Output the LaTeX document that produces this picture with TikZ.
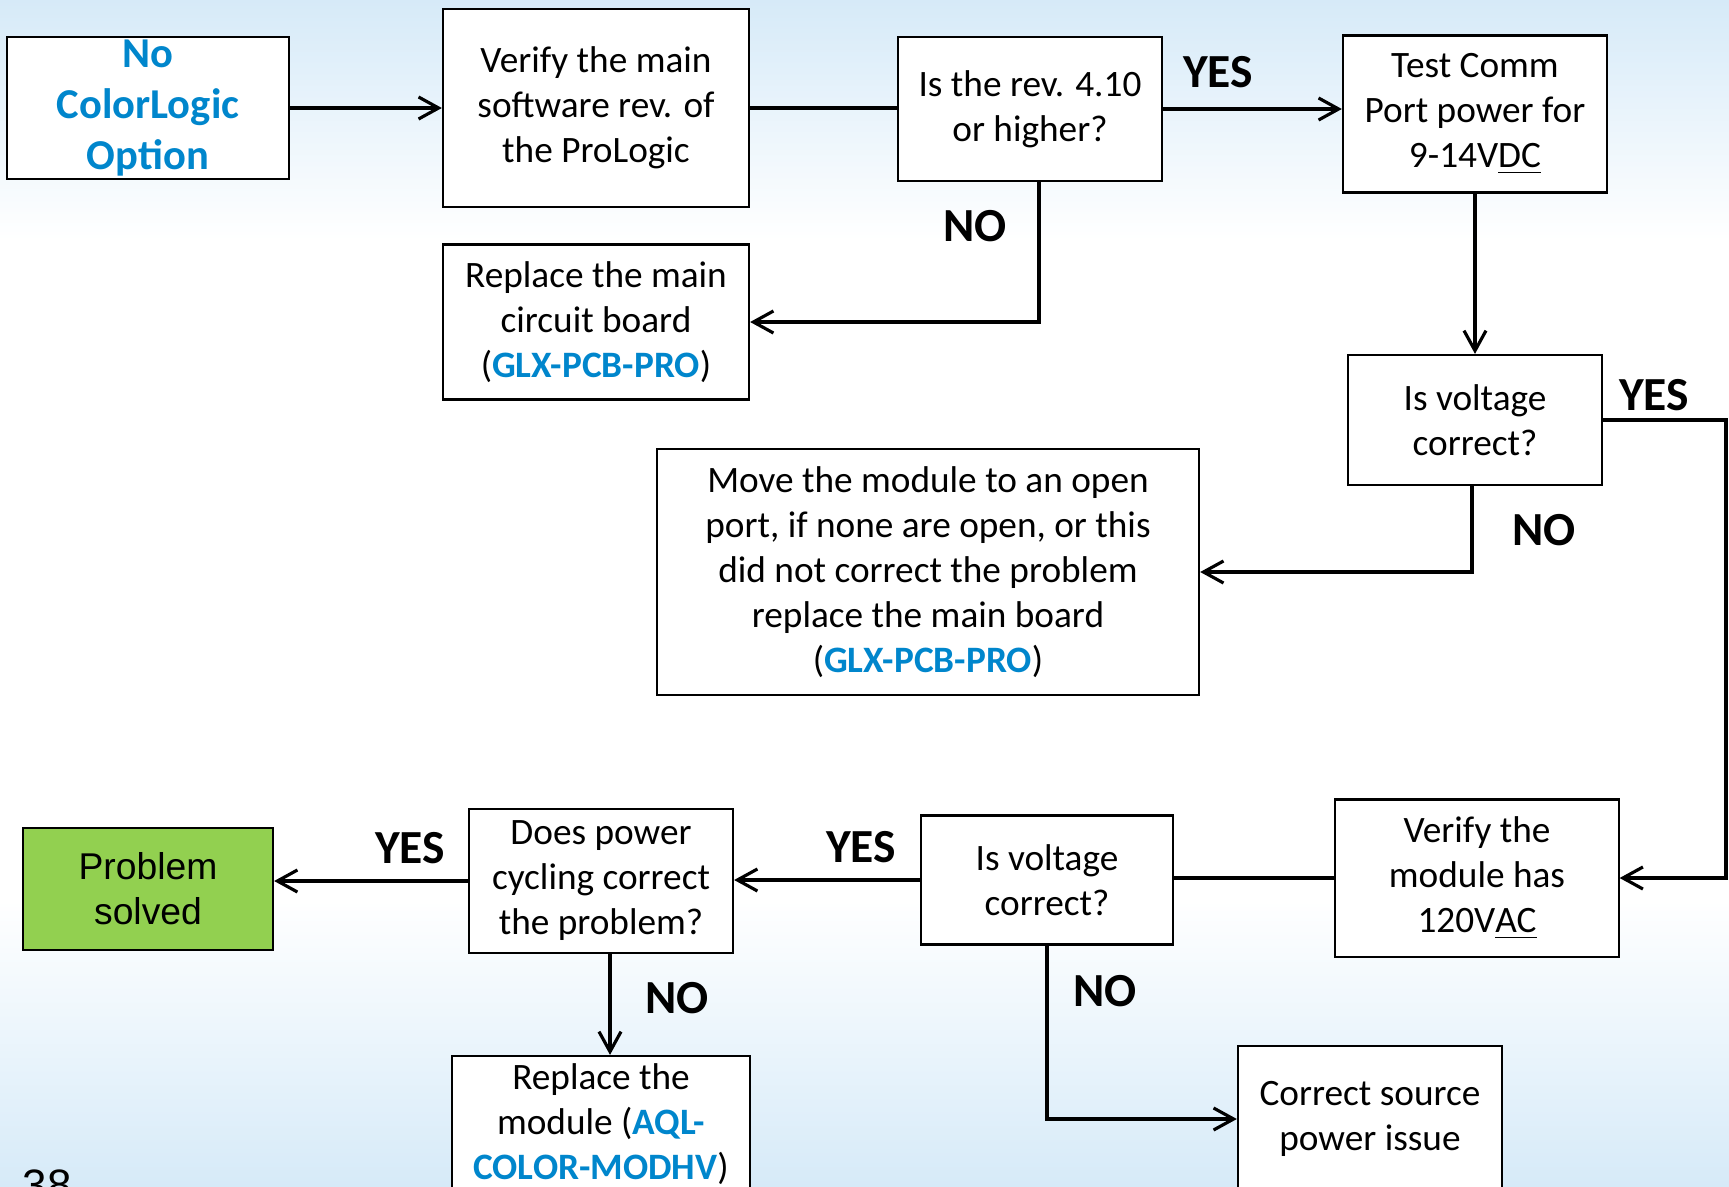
\documentclass[tikz,border=0pt]{standalone}
\usepackage{fontspec}
\setmainfont{Carlito}
\newfontfamily\arialfont{Liberation Sans}
\usetikzlibrary{positioning,arrows.meta}
\definecolor{partblue}{RGB}{0,134,204}
\definecolor{solvedgreen}{RGB}{146,208,80}
\definecolor{bgblue}{RGB}{214,234,248}
\newcommand{\partno}[1]{\textbf{\textcolor{partblue}{#1}}}

\begin{document}
\begin{tikzpicture}[
  x=0.01cm, y=-0.01cm,
  stepbox/.style={draw,line width=0.6pt,align=center,inner sep=0pt,fill=white,
    font=\fontsize{10.6}{12.8}\selectfont},
  answer/.style={font=\fontsize{13.5}{15}\selectfont\bfseries},
  flow/.style={line width=0.9pt},
  arr/.style={flow,-{Straight Barb[length=2mm,width=2.2mm]}}
]
\useasboundingbox (0,0) rectangle (1729,1187);
\clip (0,0) rectangle (1729,1187);
\shade[top color=bgblue,bottom color=white] (0,0) rectangle (1729,240);
\shade[top color=white,bottom color=bgblue] (0,900) rectangle (1729,1187);

% boxes
\node[stepbox,minimum width=2.82cm,minimum height=1.42cm,
  font=\fontsize{12.1}{14.6}\selectfont\bfseries\color{partblue}] (noco) at (148,108) {No\\ColorLogic\\Option};
\node[stepbox,minimum width=3.06cm,minimum height=1.98cm] (verify) at (596,108) {Verify the main\\software rev. of\\the ProLogic};
\node[stepbox,minimum width=2.63cm,minimum height=1.44cm] (rev) at (1030,109) {Is the rev. 4.10\\or higher?};
\node[stepbox,minimum width=2.64cm,minimum height=1.57cm] (comm) at (1475,114) {Test Comm\\Port power for\\9-14V\underline{DC}};
\node[stepbox,minimum width=2.54cm,minimum height=1.30cm] (volt1) at (1475,420) {Is voltage\\correct?};
\node[stepbox,minimum width=3.06cm,minimum height=1.55cm] (replmain) at (596,322) {Replace the main\\circuit board\\(\partno{GLX-PCB-PRO})};
\node[stepbox,minimum width=5.42cm,minimum height=2.45cm] (move) at (928,572) {Move the module to an open\\port, if none are open, or this\\did not correct the problem\\replace the main board\\(\partno{GLX-PCB-PRO})};
\node[stepbox,minimum width=2.83cm,minimum height=1.57cm] (vmod) at (1477,878) {Verify the\\module has\\120V\underline{AC}};
\node[stepbox,minimum width=2.52cm,minimum height=1.29cm] (volt2) at (1047,880) {Is voltage\\correct?};
\node[stepbox,minimum width=2.64cm,minimum height=1.44cm] (cycle) at (601,881) {Does power\\cycling correct\\the problem?};
\node[stepbox,fill=solvedgreen,minimum width=2.50cm,minimum height=1.22cm,
  font=\arialfont\fontsize{10.6}{12.8}\selectfont] (solved) at (148,889) {Problem\\solved};
\node[stepbox,minimum width=2.97cm,minimum height=1.36cm] (replmod) at (601,1124) {Replace the\\module (\partno{AQL-}\\\partno{COLOR-MODHV})};
\node[stepbox,minimum width=2.64cm,minimum height=1.46cm] (source) at (1370,1119) {Correct source\\power issue};
\coordinate (rail) at (1726,0);

% connectors
\draw[arr] (noco.east |- verify.west) -- (verify.west);
\draw[flow] (verify.east) -- (verify.east -| rev.west);
\draw[arr] (rev.east) -- (rev.east -| comm.west);
\draw[arr] ([xshift=0.09cm]rev.south) |- (replmain.east);
\draw[arr] (comm) -- (volt1);
\draw[arr] (volt1.east) -- (volt1.east -| rail) |- (vmod.east);
\draw[arr] ([xshift=-0.03cm]volt1.south) |- (move.east);
\draw[flow] (vmod.west) -- (vmod.west -| volt2.east);
\draw[arr] (volt2.west) -- (volt2.west -| cycle.east);
\draw[arr] (volt2.south) |- (source.west);
\draw[arr] (cycle.west) -- (cycle.west -| solved.east);
\draw[arr] ([xshift=0.09cm]cycle.south) -- ([xshift=0.09cm]replmod.north);

% answers
\node[answer] (yes1) at (1218,72) {YES};
\node[answer] (no1) at (975,226) {NO};
\node[answer] (yes2) at (1654,395) {YES};
\node[answer] (no2) at (1544,530) {NO};
\node[answer] (yes3) at (861,847) {YES};
\node[answer] (no3) at (1105,991) {NO};
\node[answer] (yes4) at (410,848) {YES};
\node[answer] (no4) at (677,998) {NO};

\node[font=\arialfont\fontsize{12.5}{14}\selectfont,anchor=north west,inner sep=0pt] (page) at (22,1169) {38};
\end{tikzpicture}
\end{document}
